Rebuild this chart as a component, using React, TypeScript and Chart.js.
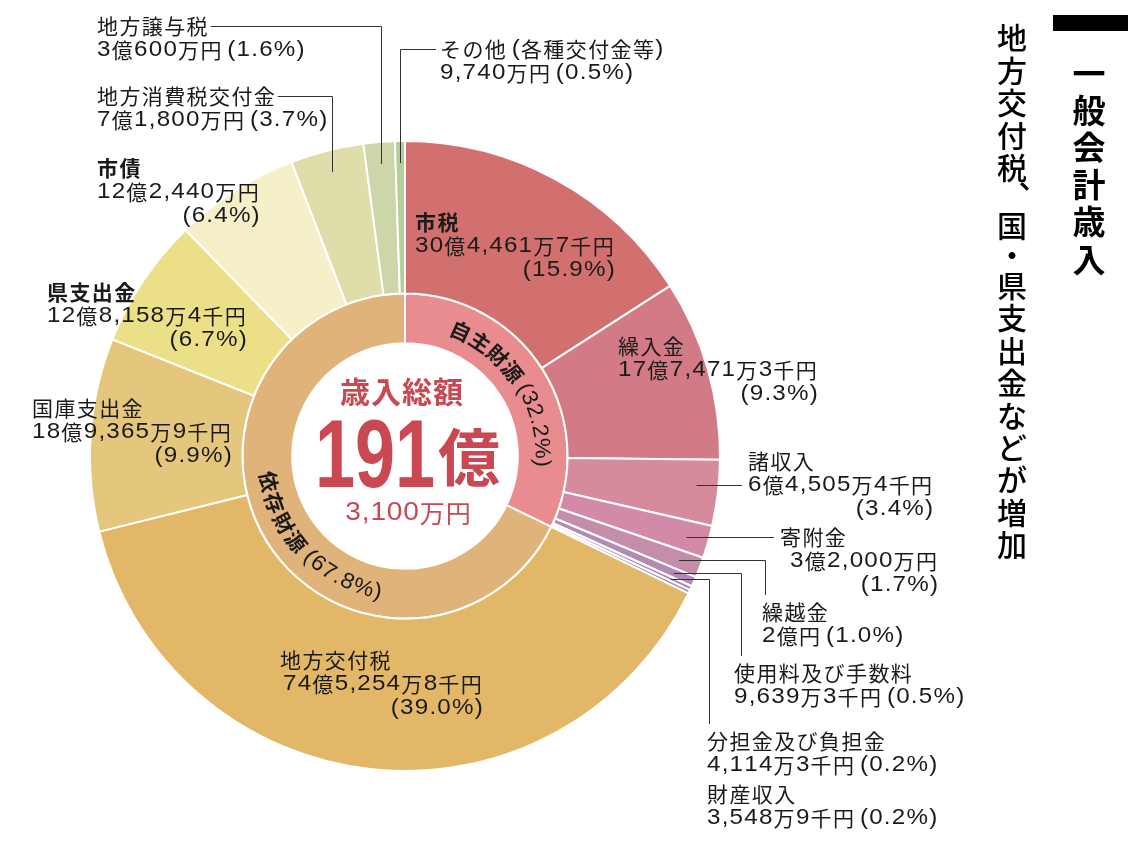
import React, { useEffect, useRef } from 'react';
import { Chart, registerables } from 'chart.js';
Chart.register(...registerables);

// ---------------- data ----------------
const selfSourceNames = ['市税', '繰入金', '諸収入', '寄附金', '繰越金', '使用料及び手数料', '分担金及び負担金', '財産収入'];
const selfSourceValues = [304461.7, 177471.3, 64505.4, 32000, 20000, 9639.3, 4114.3, 3548.9]; // 万円
const selfSourcePercents = ['15.9', '9.3', '3.4', '1.7', '1.0', '0.5', '0.2', '0.2'];
const selfSourceColors = ['#D2706F', '#D27B86', '#D68B9D', '#D389A8', '#C48EAB', '#B28BB2', '#A68BB6', '#9B89BA'];

const dependentNames = ['地方交付税', '国庫支出金', '県支出金', '市債', '地方消費税交付金', '地方譲与税', 'その他（各種交付金等）'];
const dependentValues = [745254.8, 189365.9, 128158.4, 122440, 71800, 30600, 9740]; // 万円
const dependentPercents = ['39.0', '9.9', '6.7', '6.4', '3.7', '1.6', '0.5'];
const dependentColors = ['#E3B768', '#E5C67D', '#EBDF88', '#F6F0C9', '#DFDDAA', '#CCD6A8', '#B5CD98'];

const groupNames = ['自主財源', '依存財源'];
const groupPercents = ['32.2', '67.8'];
const groupColors = ['#E88C8F', '#E0B37B'];

const centerTitle = '歳入総額';
const headline = '一般会計歳入';
const subhead = '地方交付税、国・県支出金などが増加';

// ---------------- derived ----------------
const sum = (a: number[]) => a.reduce((s, v) => s + v, 0);
const outerNames = [...selfSourceNames, ...dependentNames];
const outerValues = [...selfSourceValues, ...dependentValues];
const outerPercents = [...selfSourcePercents, ...dependentPercents];
const outerColors = [...selfSourceColors, ...dependentColors];
const groupValues = [sum(selfSourceValues), sum(dependentValues)];

function splitYen(man: number) {
  const sen = Math.round(man * 10); // 千円 units
  const oku = Math.floor(sen / 100000);
  const restMan = Math.floor((sen % 100000) / 10);
  const restSen = sen % 10;
  return { oku, restMan, restSen };
}
function formatYen(man: number): string {
  const { oku, restMan, restSen } = splitYen(man);
  let s = '';
  if (oku) s += oku + '億';
  if (restMan) s += restMan.toLocaleString('en-US') + '万';
  if (restSen) s += restSen + '千';
  return s + '円';
}

// ---------------- layout (label placement) ----------------
type Layout = {
  x: number; y: number; rows: 2 | 3; bold?: boolean; dx2?: number;
  leader?: 'h' | 'up' | 'down'; leaderRow?: number; side?: 'left' | 'right'; elbowX?: number;
};
const labelLayout: Layout[] = [
  { x: 415, y: 222, rows: 3, bold: true },
  { x: 618, y: 346, rows: 3 },
  { x: 748, y: 461, rows: 3, leader: 'h', leaderRow: 1 },
  { x: 780, y: 537, rows: 3, dx2: 10, leader: 'h', leaderRow: 0 },
  { x: 762, y: 612, rows: 2, leader: 'down', elbowX: 765 },
  { x: 734, y: 673, rows: 2, leader: 'down', elbowX: 741 },
  { x: 707, y: 741, rows: 2, leader: 'down', elbowX: 709 },
  { x: 707, y: 794, rows: 2 },
  { x: 280, y: 660, rows: 3, dx2: 3 },
  { x: 32, y: 408, rows: 3 },
  { x: 47, y: 292, rows: 3, bold: true },
  { x: 97, y: 168, rows: 3, bold: true },
  { x: 97, y: 96, rows: 2, leader: 'up', side: 'left' },
  { x: 97, y: 26, rows: 2, leader: 'up', side: 'left' },
  { x: 440, y: 49, rows: 2, leader: 'up', side: 'right' },
];

const LAT = '"Liberation Sans", "DejaVu Sans", sans-serif';
const CJK = '"Noto Sans CJK JP", "Liberation Sans", sans-serif';
const LINE_H = 24;
const RED = '#C94852';
const INK = '#1a1a1a';

type Glyph = { ch: string; f: string; pre: number; w: number; adv: number; sx: number };

function shape(
  ctx: CanvasRenderingContext2D, text: string, bold: boolean,
  cjkSize = 21, latSize = 22, cjkLS = 1.4, latLS = 1.2, latScale = 1.1
): Glyph[] {
  const out: Glyph[] = [];
  (ctx as any).letterSpacing = '0px';
  for (const raw of Array.from(text)) {
    let ch = raw;
    let pre = 0;
    let post = 0;
    let latin: boolean;
    if (raw === '（') { ch = '('; pre = 4.5; latin = true; }
    else if (raw === '）') { ch = ')'; post = 3; latin = true; }
    else latin = raw.charCodeAt(0) < 0x2000;
    const f = latin
      ? `${bold ? 'bold ' : ''}${latSize}px ${LAT}`
      : `${bold ? 'bold ' : ''}${cjkSize}px ${CJK}`;
    ctx.font = f;
    const sx = latin ? latScale : 1;
    const w = ctx.measureText(ch).width * sx;
    out.push({ ch, f, pre, w, sx, adv: pre + w + post + (latin ? latLS : cjkLS) });
  }
  return out;
}
function glyphWidth(gs: Glyph[]) {
  if (!gs.length) return 0;
  const last = gs[gs.length - 1];
  return sum(gs.map((g) => g.adv)) - (last.adv - last.pre - last.w);
}
function drawGlyphs(ctx: CanvasRenderingContext2D, gs: Glyph[], x: number, y: number) {
  ctx.textAlign = 'left';
  let cx = x;
  for (const g of gs) {
    ctx.font = g.f;
    if (g.sx !== 1) {
      ctx.save();
      ctx.translate(cx + g.pre, y);
      ctx.scale(g.sx, 1);
      ctx.fillText(g.ch, 0, 0);
      ctx.restore();
    } else {
      ctx.fillText(g.ch, cx + g.pre, y);
    }
    cx += g.adv;
  }
}

function drawArcText(
  ctx: CanvasRenderingContext2D, cx: number, cy: number, r: number, center: number,
  parts: { text: string; bold: boolean }[], outward: boolean
) {
  const gs: Glyph[] = [];
  for (const p of parts) gs.push(...shape(ctx, p.text, p.bold, 21, 22, 1.2, 0.8, 1.05));
  const total = sum(gs.map((g) => g.adv));
  let a = outward ? center - total / r / 2 : center + total / r / 2;
  ctx.fillStyle = INK;
  ctx.textAlign = 'center';
  ctx.textBaseline = 'middle';
  for (const g of gs) {
    const off = (g.pre + g.w / 2) / r;
    const ang = outward ? a + off : a - off;
    ctx.save();
    ctx.translate(cx + r * Math.cos(ang), cy + r * Math.sin(ang));
    ctx.rotate(outward ? ang + Math.PI / 2 : ang - Math.PI / 2);
    ctx.scale(g.sx, 1);
    ctx.font = g.f;
    ctx.fillText(g.ch, 0, 0);
    ctx.restore();
    a = outward ? a + g.adv / r : a - g.adv / r;
  }
}

function drawVertical(
  ctx: CanvasRenderingContext2D, text: string, x: number, y0: number, full: number, f: string, size: number
) {
  ctx.font = f;
  ctx.textAlign = 'center';
  ctx.textBaseline = 'middle';
  let y = y0 - full / 2;
  for (const ch of Array.from(text)) {
    const adv = ch === '、' ? full * 0.79 : ch === '・' ? full * 0.85 : full;
    const cyc = y + adv / 2;
    if (ch === '、') {
      ctx.fillText(ch, x + size * 0.72, cyc - size * 0.68);
    } else {
      ctx.fillText(ch, x, cyc);
    }
    y += adv;
  }
}

const annotate = {
  id: 'annotate',
  afterDraw(chart: any) {
    const ctx: CanvasRenderingContext2D = chart.ctx;
    const outer = chart.getDatasetMeta(0).data as any[];
    const inner = chart.getDatasetMeta(1).data as any[];
    const cx = outer[0].x;
    const cy = outer[0].y;
    const R = outer[0].outerRadius;
    const ringR = (inner[0].innerRadius + inner[0].outerRadius) / 2;

    ctx.save();
    // ----- ring texts -----
    const selfMid = (inner[0].startAngle + inner[0].endAngle) / 2;
    drawArcText(ctx, cx, cy, ringR - 1, selfMid,
      [{ text: groupNames[0], bold: true }, { text: '（' + groupPercents[0] + '%）', bold: false }], true);
    const depMid = (inner[1].startAngle + inner[1].endAngle) / 2 - (12 * Math.PI) / 180;
    drawArcText(ctx, cx, cy, ringR + 1, depMid,
      [{ text: groupNames[1], bold: true }, { text: '（' + groupPercents[1] + '%）', bold: false }], false);

    // ----- center -----
    const tot = splitYen(sum(outerValues));
    (ctx as any).letterSpacing = '1px';
    ctx.fillStyle = RED;
    ctx.textAlign = 'center';
    ctx.textBaseline = 'middle';
    ctx.font = `bold 30px ${CJK}`;
    ctx.fillText(centerTitle, cx - 3, cy - 64);
    (ctx as any).letterSpacing = '0px';
    const bigNum = String(tot.oku);
    ctx.font = `bold 96px ${LAT}`;
    const numW = ctx.measureText(bigNum).width * 0.75;
    ctx.font = `bold 62px ${CJK}`;
    const okuW = ctx.measureText('億').width;
    const totalW = numW + 3 + okuW;
    const sx = cx + 2.5 - totalW / 2;
    ctx.textAlign = 'left';
    ctx.textBaseline = 'alphabetic';
    ctx.save();
    ctx.translate(sx, cy + 31);
    ctx.scale(0.75, 1);
    ctx.font = `bold 96px ${LAT}`;
    ctx.fillText(bigNum, 0, 0);
    ctx.restore();
    ctx.font = `bold 62px ${CJK}`;
    ctx.fillText('億', sx + numW + 3, cy + 25);
    ctx.textBaseline = 'middle';
    const subGs = shape(ctx, tot.restMan.toLocaleString('en-US') + '万円', false, 25, 26, 1, 0.8, 1.08);
    drawGlyphs(ctx, subGs, cx + 3 - glyphWidth(subGs) / 2, cy + 57);

    // ----- labels -----
    ctx.fillStyle = INK;
    ctx.strokeStyle = '#333';
    ctx.lineWidth = 1;
    ctx.textBaseline = 'middle';
    const anchorR = R - 22;
    outerNames.forEach((name, i) => {
      const L = labelLayout[i];
      const amount = formatYen(outerValues[i]);
      const pct = '（' + outerPercents[i] + '%）';
      const rows = L.rows === 3 ? [name, amount, pct] : [name, amount + pct];
      const g0 = shape(ctx, rows[0], !!L.bold);
      const w0 = glyphWidth(g0);
      drawGlyphs(ctx, g0, L.x, L.y);
      const g1 = shape(ctx, rows[1], false);
      const x2 = L.x + (L.dx2 || 0);
      drawGlyphs(ctx, g1, x2, L.y + LINE_H);
      if (L.rows === 3) {
        const right = x2 + glyphWidth(g1);
        const g2 = shape(ctx, rows[2], false);
        drawGlyphs(ctx, g2, right - glyphWidth(g2) + 1, L.y + 2 * LINE_H);
      }
      if (!L.leader) return;
      const arc = outer[i];
      const mid = (arc.startAngle + arc.endAngle) / 2;
      const ax = cx + anchorR * Math.cos(mid);
      const ay = cy + anchorR * Math.sin(mid);
      ctx.beginPath();
      if (L.leader === 'h') {
        const y = L.y + (L.leaderRow || 0) * LINE_H;
        const x = cx + Math.sqrt(anchorR * anchorR - (y - cy) * (y - cy));
        ctx.moveTo(x, Math.round(y) + 0.5);
        ctx.lineTo(L.x - 6, Math.round(y) + 0.5);
      } else if (L.leader === 'up') {
        const vx = Math.round(ax) + 0.5;
        const hy = Math.round(L.y) + 0.5;
        ctx.moveTo(vx, ay);
        ctx.lineTo(vx, hy);
        ctx.lineTo(L.side === 'left' ? L.x + w0 + 3 : L.x - 4, hy);
      } else {
        const hy = Math.round(ay) + 0.5;
        const ex = Math.round(L.elbowX || ax) + 0.5;
        ctx.moveTo(ax, hy);
        ctx.lineTo(ex, hy);
        ctx.lineTo(ex, L.y - 17);
      }
      ctx.stroke();
    });

    // ----- vertical headings -----
    (ctx as any).letterSpacing = '0px';
    ctx.fillStyle = '#000';
    ctx.fillRect(1053, 15, 75, 16);
    drawVertical(ctx, headline, 1089, 73, 37.2, `bold 33px ${CJK}`, 33);
    drawVertical(ctx, subhead, 1012, 38, 32.4, `500 30px ${CJK}`, 30);
    ctx.restore();
  },
};

export default function App() {
  const ref = useRef<HTMLCanvasElement>(null);
  useEffect(() => {
    const canvas = ref.current!;
    const chart = new Chart(canvas, {
      type: 'doughnut',
      data: {
        labels: outerNames,
        datasets: [
          { data: outerValues, backgroundColor: outerColors, borderColor: '#ffffff', borderWidth: 2, weight: 153 } as any,
          { data: groupValues, backgroundColor: groupColors, borderColor: '#ffffff', borderWidth: 2, weight: 50 } as any,
        ],
      },
      options: {
        responsive: false,
        animation: false,
        cutout: '35.8%',
        events: [],
        layout: { padding: { left: 89, top: 140, right: 407, bottom: 71 } },
        plugins: { legend: { display: false }, tooltip: { enabled: false } },
      } as any,
      plugins: [annotate],
    });
    return () => chart.destroy();
  }, []);
  return (
    <div style={{ position: 'fixed', left: 0, top: 0, width: 1128, height: 843, background: '#ffffff' }}>
      <canvas ref={ref} width={1128} height={843} style={{ display: 'block' }} />
    </div>
  );
}
